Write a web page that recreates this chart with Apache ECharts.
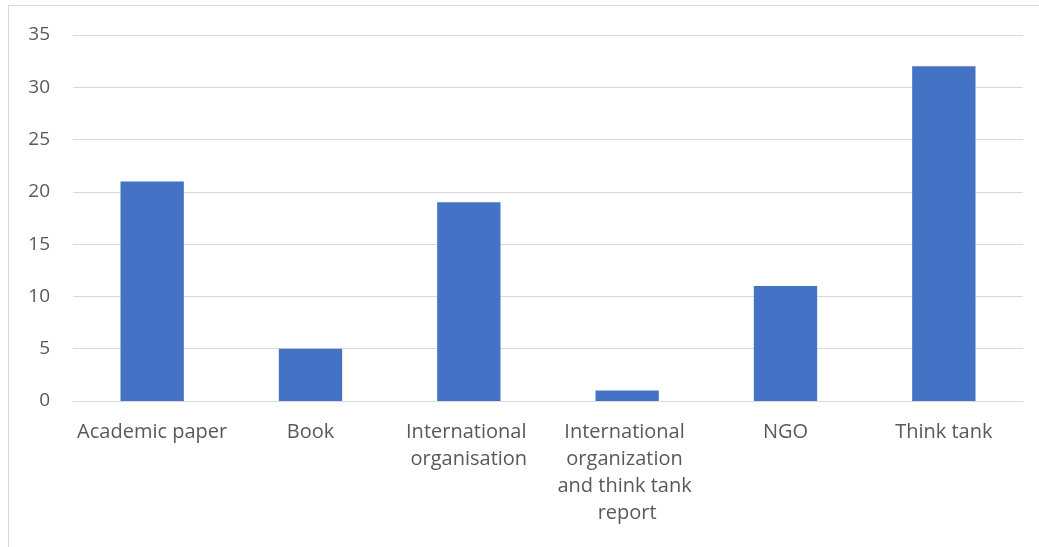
<!DOCTYPE html>
<html>
<head>
<meta charset="utf-8">
<script src="https://cdn.jsdelivr.net/npm/echarts@6/dist/echarts.min.js"></script>
<style>
    html, body { margin: 0; padding: 0; background: #fff; }
    #frame {
        position: absolute;
        left: 8px;
        top: 5px;
        width: 1031px;
        height: 542px;
        border-left: 1px solid #d9d9d9;
        border-top: 1px solid #d9d9d9;
    }
    #chart { position: absolute; left: 0; top: 0; width: 1039px; height: 547px; }
</style>
</head>
<body>
<div id="frame"></div>
<div id="chart"></div>
<script>
const categories = [
    'Academic paper',
    'Book',
    'International organisation',
    'International organization and think tank report',
    'NGO',
    'Think tank',
];
const counts = [21, 5, 19, 1, 11, 32];
const yTicks = [0, 5, 10, 15, 20, 25, 30, 35];

const chart = echarts.init(document.getElementById('chart'));

chart.setOption({
    animation: false,
    grid: { left: 73, right: 16, top: 35, bottom: 146 },
    xAxis: {
        type: 'category',
        data: categories,
        axisTick: { show: false },
        axisLine: { lineStyle: { color: '#d9d9d9', width: 1 } },
        axisLabel: {
            color: '#595959',
            fontFamily: 'Open Sans',
            fontSize: 20,
            margin: 18,
            lineHeight: 27,
            width: 153,
            overflow: 'break',
            interval: 0,
        },
    },
    yAxis: {
        type: 'value',
        min: yTicks[0],
        max: yTicks[yTicks.length - 1],
        interval: 5,
        axisLine: { show: false },
        axisTick: { show: false },
        axisLabel: {
            color: '#595959',
            fontFamily: 'Open Sans',
            fontSize: 19,
            margin: 23,
        },
        splitLine: { lineStyle: { color: '#d9d9d9', width: 1 } },
    },
    series: [
        {
            type: 'bar',
            data: counts,
            barCategoryGap: '60%',
            itemStyle: { color: '#4472c4' },
        },
    ],
});
</script>
</body>
</html>
